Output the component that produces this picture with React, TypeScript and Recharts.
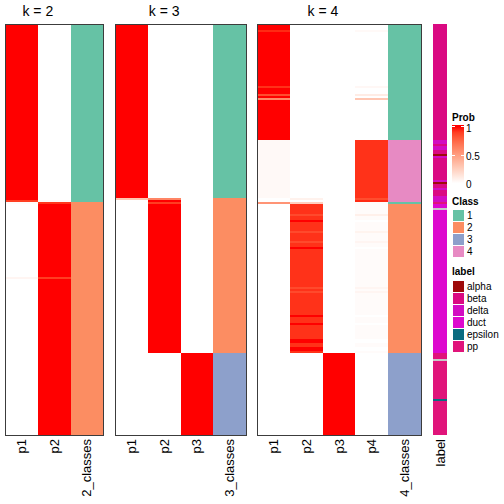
import React from 'react';
import { BarChart, Bar, XAxis, YAxis, Cell } from 'recharts';

// ---------- data (rows are samples, grouped into runs of identical values) ----------
const TOTAL_ROWS = 205;

// k = 2
const K2_ROWS = [88, 1, 1, 36, 1, 78];
const K2_P1 = [1, 0.9, 0.02, 0, 0.05, 0];
const K2_P2 = [0, 0.03, 0.92, 1, 0.9, 1];
const K2_CLASS = [1, 1, 2, 2, 2, 2];

// k = 3
const K3_ROWS = [87, 1, 1, 1, 74, 41];
const K3_P1 = [1, 0.3, 0, 0, 0, 0];
const K3_P2 = [0, 0.62, 1, 0.9, 1, 0];
const K3_P3 = [0, 0, 0, 0, 0, 1];
const K3_CLASS = [1, 2, 2, 2, 2, 3];

// k = 4
const K4_ROWS = [
  3, 1, 27, 1, 3, 1, 1, 1, 20,
  29, 1, 1, 1,
  5, 1, 2, 1, 4, 1, 4, 1, 2, 1, 19, 1, 1, 1, 11, 1, 3, 1, 7, 2, 2, 2, 1,
  41,
];
const K4_P1 = [
  1, 0.95, 1, 0.93, 1, 0.85, 1, 0.6, 1,
  0.03, 0, 0, 0.55,
  0, 0, 0, 0, 0, 0, 0, 0, 0, 0, 0, 0, 0, 0, 0, 0, 0, 0, 0, 0, 0, 0, 0,
  0,
];
const K4_P2 = [
  0, 0, 0, 0, 0, 0, 0, 0, 0,
  0, 0.07, 0, 0.25,
  0.93, 0.86, 0.93, 1, 0.93, 0.86, 0.93, 0.86, 0.93, 1, 0.93, 0.86, 0.93, 0.86, 0.93, 1, 0.93, 1, 0.93, 1, 0.93, 1, 0.93,
  0,
];
const K4_P3 = [
  0, 0, 0, 0, 0, 0, 0, 0, 0,
  0, 0, 0, 0,
  0, 0, 0, 0, 0, 0, 0, 0, 0, 0, 0, 0, 0, 0, 0, 0, 0, 0, 0, 0, 0, 0, 0,
  1,
];
const K4_P4 = [
  0, 0.03, 0, 0.04, 0, 0.1, 0, 0.3, 0,
  0.93, 0.85, 0.95, 0.02,
  0.02, 0.08, 0.02, 0, 0.02, 0.06, 0.02, 0.05, 0.02, 0, 0.02, 0.05, 0.02, 0.05, 0.02, 0, 0.02, 0, 0.02, 0, 0.02, 0, 0.02,
  0,
];
const K4_CLASS = [
  1, 1, 1, 1, 1, 1, 1, 1, 1,
  4, 4, 4, 1,
  2, 2, 2, 2, 2, 2, 2, 2, 2, 2, 2, 2, 2, 2, 2, 2, 2, 2, 2, 2, 2, 2, 2,
  3,
];

// sample annotation
const LABEL_ROWS = [58, 2, 1, 2, 2, 1, 1, 11, 1, 1, 2, 1, 3, 3, 1, 2, 1, 71, 3, 1, 19, 1, 17];
const LABEL_VALUES = [
  'beta', 'delta', 'beta', 'delta', 'beta', 'alpha', 'delta', 'beta', 'delta', 'alpha', 'beta', 'delta',
  'beta', 'delta', 'pp', 'duct', 'NA', 'duct', 'pp', 'NA', 'pp', 'epsilon', 'pp',
];

const CLASS_NAMES = ['1', '2', '3', '4'];
const CLASS_COLORS = ['#66C2A5', '#FC8D62', '#8DA0CB', '#E78AC3'];
const LABEL_NAMES = ['alpha', 'beta', 'delta', 'duct', 'epsilon', 'pp'];
const LABEL_COLORS = ['#9E0A0A', '#DA0A82', '#D20DC2', '#DD08CE', '#0B6B80', '#E0147A'];
const NA_COLOR = '#C8C8C8';
const PROB_TICKS = [1, 0.5, 0];

// ---------- layout ----------
const TOP = 24;
const PLOT_H = 411;
const AXIS_H = 70;
const COL_W = 32.8;
const FONT = "'Liberation Sans', Arial, Helvetica, sans-serif";

// ---------- colour helpers (white -> red in LAB) ----------
function labToHex(L: number, a: number, b: number): string {
  const fy = (L + 16) / 116;
  const fx = fy + a / 500;
  const fz = fy - b / 200;
  const finv = (t: number) => (t * t * t > 0.008856 ? t * t * t : (t - 16 / 116) / 7.787);
  const X = 0.95047 * finv(fx);
  const Y = 1.0 * finv(fy);
  const Z = 1.08883 * finv(fz);
  const lin = [
    3.2406 * X - 1.5372 * Y - 0.4986 * Z,
    -0.9689 * X + 1.8758 * Y + 0.0415 * Z,
    0.0557 * X - 0.204 * Y + 1.057 * Z,
  ];
  return (
    '#' +
    lin
      .map((c) => {
        const v = c <= 0.0031308 ? 12.92 * c : 1.055 * Math.pow(c, 1 / 2.4) - 0.055;
        const n = Math.max(0, Math.min(255, Math.round(v * 255)));
        return n.toString(16).padStart(2, '0');
      })
      .join('')
  );
}
function probColor(p: number): string {
  return labToHex(100 - 46.76 * p, 80.09 * p, 67.2 * p);
}
function labelColor(v: string): string {
  const i = LABEL_NAMES.indexOf(v);
  return i >= 0 ? LABEL_COLORS[i] : NA_COLOR;
}

type Panel = {
  title: string;
  left: number;
  probCols: string[];
  classCol: string;
  rows: number[];
  probs: number[][];
  classes: number[];
};

const PANELS: Panel[] = [
  { title: 'k = 2', left: 5, probCols: ['p1', 'p2'], classCol: '2_classes', rows: K2_ROWS, probs: [K2_P1, K2_P2], classes: K2_CLASS },
  { title: 'k = 3', left: 115, probCols: ['p1', 'p2', 'p3'], classCol: '3_classes', rows: K3_ROWS, probs: [K3_P1, K3_P2, K3_P3], classes: K3_CLASS },
  { title: 'k = 4', left: 257.3, probCols: ['p1', 'p2', 'p3', 'p4'], classCol: '4_classes', rows: K4_ROWS, probs: [K4_P1, K4_P2, K4_P3, K4_P4], classes: K4_CLASS },
];
const LABEL_LEFT = 433;
const LABEL_W = 14;

const RotTick = (props: any) => {
  const { x, payload } = props;
  const ty = TOP + PLOT_H + 4;
  return (
    <text
      x={x}
      y={ty}
      transform={`rotate(-90 ${x} ${ty})`}
      textAnchor="end"
      dominantBaseline="central"
      fontSize={13}
      fontFamily={FONT}
      fill="#000"
    >
      {payload.value}
    </text>
  );
};

function HeatPanel({ panel }: { panel: Panel }) {
  const cols = [...panel.probCols, panel.classCol];
  const data = cols.map((name) => {
    const o: any = { name };
    panel.rows.forEach((r, j) => (o['s' + j] = r));
    return o;
  });
  const width = cols.length * COL_W;
  return (
    <div style={{ position: 'absolute', left: panel.left, top: 0 }}>
      <BarChart
        width={width}
        height={TOP + PLOT_H + AXIS_H}
        data={data}
        margin={{ top: TOP, right: 0, bottom: 0, left: 0 }}
        barCategoryGap={0}
        barGap={0}
      >
        <XAxis dataKey="name" type="category" axisLine={false} tickLine={false} tickSize={0} height={AXIS_H} interval={0} tick={(p: any) => <RotTick {...p} />} />
        <YAxis type="number" domain={[0, TOTAL_ROWS]} reversed hide />
        {panel.rows.map((_, j) => (
          <Bar key={j} dataKey={'s' + j} stackId="h" isAnimationActive={false}>
            {cols.map((c, i) => (
              <Cell
                key={c}
                fill={i < panel.probCols.length ? probColor(panel.probs[i][j]) : CLASS_COLORS[panel.classes[j] - 1]}
              />
            ))}
          </Bar>
        ))}
      </BarChart>
    </div>
  );
}

function LabelPanel() {
  const data = [{ name: 'label', ...Object.fromEntries(LABEL_ROWS.map((r, j) => ['s' + j, r])) }];
  return (
    <div style={{ position: 'absolute', left: LABEL_LEFT, top: 0 }}>
      <BarChart
        width={LABEL_W}
        height={TOP + PLOT_H + AXIS_H}
        data={data}
        margin={{ top: TOP, right: 0, bottom: 0, left: 0 }}
        barCategoryGap={0}
        barGap={0}
      >
        <XAxis dataKey="name" type="category" axisLine={false} tickLine={false} tickSize={0} height={AXIS_H} interval={0} tick={(p: any) => <RotTick {...p} />} />
        <YAxis type="number" domain={[0, TOTAL_ROWS]} reversed hide />
        {LABEL_ROWS.map((_, j) => (
          <Bar key={j} dataKey={'s' + j} stackId="h" isAnimationActive={false}>
            <Cell fill={labelColor(LABEL_VALUES[j])} />
          </Bar>
        ))}
      </BarChart>
    </div>
  );
}

function Overlay() {
  const gradTop = 125;
  const v1 = 126.7;
  const vSpan = 56.6;
  const yv = (v: number) => v1 + (1 - v) * vSpan;
  const labelCenter = (v: number) => 128.5 + (1 - v) * 55.5;
  const stops = [1, 0.9, 0.8, 0.7, 0.6, 0.5, 0.4, 0.3, 0.2, 0.1, 0];
  const lx = 452;
  const tx = 467;
  return (
    <svg width={504} height={504} style={{ position: 'absolute', left: 0, top: 0, pointerEvents: 'none', overflow: 'visible' }} fontFamily={FONT}>
      <defs>
        <linearGradient id="probgrad" x1="0" y1={gradTop} x2="0" y2={yv(0)} gradientUnits="userSpaceOnUse">
          {stops.map((v) => (
            <stop key={v} offset={(yv(v) - gradTop) / (yv(0) - gradTop)} stopColor={probColor(v)} />
          ))}
        </linearGradient>
      </defs>
      {PANELS.map((p) => {
        const w = (p.probCols.length + 1) * COL_W;
        return (
          <g key={p.title}>
            <rect x={p.left} y={TOP} width={w} height={PLOT_H} fill="none" stroke="#3C3C3C" strokeWidth={1} />
            <text x={p.left + (p.probCols.length * COL_W) / 2} y={15.5} textAnchor="middle" fontSize={14} fill="#000">
              {p.title}
            </text>
          </g>
        );
      })}
      {/* Prob legend */}
      <text x={lx} y={120.5} fontSize={10} fontWeight="bold" fill="#000">Prob</text>
      <rect x={lx} y={gradTop} width={12} height={yv(0) - gradTop} fill="url(#probgrad)" />
      {PROB_TICKS.map((v) => (
        <g key={v}>
          <line x1={lx} x2={lx + 3} y1={yv(v)} y2={yv(v)} stroke="#fff" strokeWidth={1} />
          <line x1={lx + 9} x2={lx + 12} y1={yv(v)} y2={yv(v)} stroke="#fff" strokeWidth={1} />
          <text x={tx - 1} y={labelCenter(v) + 3.6} fontSize={10} fill="#000">{String(v)}</text>
        </g>
      ))}
      {/* Class legend */}
      <text x={lx} y={205.3} fontSize={10} fontWeight="bold" fill="#000">Class</text>
      {CLASS_NAMES.map((c, i) => (
        <g key={c}>
          <rect x={lx} y={209 + i * 12} width={12} height={12} fill={CLASS_COLORS[i]} stroke="#fff" strokeWidth={1} />
          <text x={tx} y={215 + i * 12 + 3.6} fontSize={10} fill="#000">{c}</text>
        </g>
      ))}
      {/* label legend */}
      <text x={lx} y={274.6} fontSize={10} fontWeight="bold" fill="#000">label</text>
      {LABEL_NAMES.map((c, i) => (
        <g key={c}>
          <rect x={lx} y={280 + i * 12} width={12} height={12} fill={LABEL_COLORS[i]} stroke="#fff" strokeWidth={1} />
          <text x={tx} y={286 + i * 12 + 3.6} fontSize={10} fill="#000">{c}</text>
        </g>
      ))}
    </svg>
  );
}

export default function App() {
  return (
    <div
      style={{
        position: 'absolute',
        left: 0,
        top: 0,
        width: 504,
        height: 504,
        background: '#fff',
        overflow: 'hidden',
        fontFamily: FONT,
        shapeRendering: 'crispEdges',
      }}
    >
      {PANELS.map((p) => (
        <HeatPanel key={p.title} panel={p} />
      ))}
      <LabelPanel />
      <Overlay />
    </div>
  );
}
